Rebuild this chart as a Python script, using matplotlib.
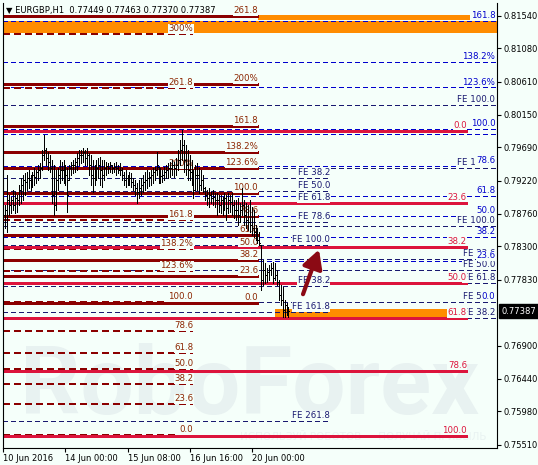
import matplotlib.pyplot as plt
import matplotlib.patches as mpatches

plt.switch_backend('agg')

# EURGBP H1 bars (high / low / close), first bar 10 Jun 2016 16:00
highs = [0.7891, 0.7888, 0.7930, 0.7902, 0.7899, 0.7909, 0.7906, 0.7902, 0.7916, 0.7926,
         0.7930, 0.7933, 0.7934, 0.7937, 0.7930, 0.7934, 0.7940, 0.7937, 0.7944, 0.7947,
         0.7965, 0.7986, 0.7968, 0.7962, 0.7958, 0.7951, 0.7944, 0.7937, 0.7940, 0.7951,
         0.7948, 0.7951, 0.7944, 0.7940, 0.7944, 0.7948, 0.7951, 0.7954, 0.7961, 0.7965,
         0.7965, 0.7968, 0.7965, 0.7968, 0.7961, 0.7958, 0.7951, 0.7944, 0.7951, 0.7954,
         0.7955, 0.7951, 0.7951, 0.7948, 0.7947, 0.7948, 0.7944, 0.7947, 0.7948, 0.7944,
         0.7947, 0.7940, 0.7934, 0.7937, 0.7930, 0.7934, 0.7933, 0.7926, 0.7923, 0.7919,
         0.7923, 0.7926, 0.7930, 0.7934, 0.7937, 0.7934, 0.7937, 0.7940, 0.7941, 0.7962,
         0.7941, 0.7940, 0.7937, 0.7941, 0.7944, 0.7947, 0.7948, 0.7951, 0.7948, 0.7954,
         0.7965, 0.7979, 0.7993, 0.7979, 0.7972, 0.7965, 0.7958, 0.7951, 0.7937, 0.7944,
         0.7947, 0.7940, 0.7937, 0.7930, 0.7913, 0.7909, 0.7912, 0.7906, 0.7909, 0.7905,
         0.7905, 0.7902, 0.7902, 0.7899, 0.7905, 0.7902, 0.7905, 0.7902, 0.7905, 0.7895,
         0.7895, 0.7898, 0.7891, 0.7912, 0.7895, 0.7891, 0.7888, 0.7895, 0.7885, 0.7881,
         0.7860, 0.7856, 0.7850, 0.7832, 0.7811, 0.7806, 0.7799, 0.7804, 0.7806, 0.7808,
         0.7806, 0.7797, 0.7783, 0.7776, 0.7773, 0.7754, 0.7750, 0.7745]
lows = [0.7853, 0.7856, 0.7850, 0.7874, 0.7877, 0.7881, 0.7877, 0.7878, 0.7888, 0.7891,
        0.7895, 0.7902, 0.7909, 0.7912, 0.7909, 0.7913, 0.7916, 0.7919, 0.7923, 0.7926,
        0.7937, 0.7951, 0.7944, 0.7937, 0.7934, 0.7891, 0.7874, 0.7881, 0.7909, 0.7919,
        0.7923, 0.7919, 0.7916, 0.7878, 0.7923, 0.7930, 0.7933, 0.7934, 0.7937, 0.7944,
        0.7947, 0.7948, 0.7944, 0.7944, 0.7930, 0.7916, 0.7906, 0.7916, 0.7923, 0.7926,
        0.7916, 0.7913, 0.7923, 0.7930, 0.7933, 0.7934, 0.7933, 0.7934, 0.7930, 0.7933,
        0.7930, 0.7923, 0.7916, 0.7913, 0.7916, 0.7916, 0.7913, 0.7909, 0.7902, 0.7891,
        0.7898, 0.7902, 0.7906, 0.7909, 0.7912, 0.7915, 0.7916, 0.7919, 0.7923, 0.7930,
        0.7919, 0.7919, 0.7920, 0.7923, 0.7926, 0.7926, 0.7927, 0.7930, 0.7927, 0.7930,
        0.7937, 0.7944, 0.7951, 0.7934, 0.7930, 0.7923, 0.7923, 0.7916, 0.7898, 0.7909,
        0.7909, 0.7905, 0.7909, 0.7906, 0.7895, 0.7888, 0.7885, 0.7891, 0.7888, 0.7885,
        0.7874, 0.7878, 0.7877, 0.7874, 0.7881, 0.7867, 0.7877, 0.7878, 0.7874, 0.7870,
        0.7867, 0.7860, 0.7864, 0.7874, 0.7860, 0.7856, 0.7853, 0.7850, 0.7846, 0.7843,
        0.7839, 0.7835, 0.7832, 0.7769, 0.7776, 0.7778, 0.7780, 0.7783, 0.7790, 0.7778,
        0.7783, 0.7776, 0.7754, 0.7747, 0.7731, 0.7731, 0.7733, 0.7731]
closes = [0.7874, 0.7881, 0.7895, 0.7888, 0.7895, 0.7888, 0.7898, 0.7895, 0.7909, 0.7916,
          0.7923, 0.7920, 0.7926, 0.7923, 0.7926, 0.7930, 0.7927, 0.7934, 0.7937, 0.7940,
          0.7958, 0.7965, 0.7954, 0.7948, 0.7940, 0.7902, 0.7888, 0.7923, 0.7930, 0.7937,
          0.7937, 0.7934, 0.7930, 0.7902, 0.7940, 0.7944, 0.7944, 0.7948, 0.7954, 0.7958,
          0.7958, 0.7962, 0.7954, 0.7958, 0.7944, 0.7930, 0.7926, 0.7937, 0.7940, 0.7944,
          0.7937, 0.7930, 0.7940, 0.7943, 0.7940, 0.7944, 0.7940, 0.7941, 0.7940, 0.7937,
          0.7937, 0.7930, 0.7923, 0.7926, 0.7923, 0.7926, 0.7920, 0.7916, 0.7912, 0.7906,
          0.7912, 0.7916, 0.7920, 0.7923, 0.7926, 0.7927, 0.7930, 0.7934, 0.7937, 0.7944,
          0.7930, 0.7929, 0.7930, 0.7934, 0.7937, 0.7940, 0.7940, 0.7944, 0.7940, 0.7944,
          0.7951, 0.7965, 0.7972, 0.7951, 0.7944, 0.7937, 0.7934, 0.7926, 0.7909, 0.7930,
          0.7930, 0.7916, 0.7923, 0.7912, 0.7902, 0.7898, 0.7902, 0.7898, 0.7899, 0.7895,
          0.7895, 0.7888, 0.7895, 0.7888, 0.7898, 0.7884, 0.7895, 0.7892, 0.7888, 0.7881,
          0.7881, 0.7874, 0.7881, 0.7888, 0.7874, 0.7867, 0.7864, 0.7860, 0.7856, 0.7850,
          0.7846, 0.7839, 0.7835, 0.7783, 0.7797, 0.7790, 0.7794, 0.7797, 0.7799, 0.7785,
          0.7790, 0.7780, 0.7761, 0.7754, 0.7740, 0.7747, 0.7743, 0.77387]

date_ticks = [0, 32, 64, 96, 128]
date_labels = ['10 Jun 2016', '14 Jun 00:00', '15 Jun 08:00', '16 Jun 16:00', '20 Jun 00:00']
price_ticks = [0.81540, 0.81080, 0.80610, 0.80150, 0.79690, 0.79220, 0.78760,
               0.78300, 0.77830, 0.76900, 0.76440, 0.75980, 0.75510]
last_price = 0.77387
title = '\u25bc EURGBP,H1  0.77449 0.77463 0.77370 0.77387'

# fibo grid 1 (dashed, ends 16 Jun)
fibo1_prices = [0.81282, 0.80524, 0.79386, 0.78669, 0.78262, 0.77952, 0.77517,
                0.77109, 0.76800, 0.76576, 0.76365, 0.76084, 0.75648]
fibo1_labels = ['300%', '261.8', '200%', '161.8', '138.2%', '123.6%', '100.0',
                '78.6', '61.8', '50.0', '38.2', '23.6', '0.0']
# fibo grid 2 (solid, ends 19 Jun)
fibo2_prices = [0.81535, 0.80580, 0.79990, 0.79624, 0.79400, 0.79048, 0.78725,
                0.78465, 0.78283, 0.78107, 0.77882, 0.77510]
fibo2_labels = ['261.8', '200%', '161.8', '138.2%', '123.6%', '100.0', '78.6',
                '61.8', '50.0', '38.2', '23.6', '0.0']
# main retracement (thick crimson)
main_prices = [0.79926, 0.78915, 0.78294, 0.77788, 0.77288, 0.76552, 0.75638]
main_labels = ['0.0', '23.6', '38.2', '50.0', '61.8', '78.6', '100.0']
# blue retracement (full width)
blue_prices = [0.81472, 0.80889, 0.80531, 0.79948, 0.79877, 0.79428, 0.79010,
               0.78725, 0.78430, 0.78093, 0.77517]
blue_labels = ['161.8', '138.2%', '123.6%', '100.0', '', '78.6', '61.8',
               '50.0', '38.2', '23.6', '0.0']
# fibo expansion, labels in the middle
fe_mid_prices = [0.79259, 0.79079, 0.78908, 0.78641, 0.78318, 0.77742, 0.77376, 0.75845]
fe_mid_labels = ['FE 38.2', 'FE 50.0', 'FE 61.8', 'FE 78.6', 'FE 100.0',
                 'FE 38.2', 'FE 161.8', 'FE 261.8']
# fibo expansion, labels at the right edge
fe_right_prices = [0.80285, 0.79400, 0.78585, 0.78121, 0.77967, 0.77784, 0.77517, 0.77292]
fe_right_labels = ['FE 100.0', 'FE 161.8', 'FE 100.0', 'FE 23.6', 'FE 50.0',
                   'FE 61.8', 'FE 50.0', 'FE 38.2']

# orange zones: (bar from, bar to, low, high)
zones = [(-1, 260, 0.81290, 0.81465),
         (131.3, 241.1, 0.81479, 0.81549),
         (140.1, 228.7, 0.77285, 0.77419)]

BG = '#f5fffa'
X0, X1 = -0.2, 254.5
END_F1, END_F2, END_FEM, END_MAIN, END_EDGE = 97.8, 131.3, 168.4, 239.0, 253.6
FS = 6.2

fig = plt.figure(figsize=(5.38, 4.65), dpi=100, facecolor=BG)
ax = fig.add_axes([3 / 538, 17 / 465, 494 / 538, 445 / 465], facecolor=BG)
ax.set_xlim(X0, X1)
ax.set_ylim(0.75466, 0.81718)

dash = (0, (4, 3))


def label(x, y, txt, color, z):
    if not txt:
        return
    ax.annotate(txt, xy=(x, y), xytext=(0, 0.6), textcoords='offset points',
                ha='right', va='bottom', fontsize=FS, color=color, zorder=z,
                bbox=dict(boxstyle='square,pad=0.05', fc=BG, ec='none'))


for x0, x1, lo, hi in zones:
    ax.add_patch(mpatches.Rectangle((x0, lo), x1 - x0, hi - lo, fc='#ff8c00',
                                    ec='none', zorder=1))

# watermark
ax.text(0.5, 0.135, 'RoboForex', transform=ax.transAxes, ha='center', va='center',
        fontsize=68, family='Roboto', fontweight='bold', color='#e8f2f1', zorder=0.5)
ax.text(0.73, 0.025, 'ИСПОЛЬЗУЙ РОБОТОВ — ПОЛУЧАЙ ПРИБЫЛЬ', transform=ax.transAxes,
        ha='center', va='center', fontsize=7.5, color='#e9f3f2', zorder=0.5)

ax.hlines(blue_prices, X0, X1, colors='#0000cd', lw=0.75, linestyles=dash, zorder=2,
          antialiased=False)
ax.hlines(fe_right_prices, X0, X1, colors='#191970', lw=0.75, linestyles=dash, zorder=2,
          antialiased=False)
ax.hlines(fe_mid_prices, X0, END_FEM, colors='#191970', lw=0.75, linestyles=dash,
          zorder=2, antialiased=False)
ax.hlines(fibo1_prices, X0, END_F1, colors='#8b0000', lw=1.1, linestyles=dash, zorder=2.2,
          antialiased=False)
ax.hlines(fibo2_prices, X0, END_F2, colors='#8b0000', lw=0.8, zorder=2.3,
          antialiased=False)
ax.hlines(main_prices, X0, END_MAIN, colors='#dc143c', lw=2, zorder=2.5,
          antialiased=False)

for p, t in zip(fe_right_prices, fe_right_labels):
    label(END_EDGE, p, t, '#191970', 3)
for p, t in zip(blue_prices, blue_labels):
    label(END_EDGE, p, t, '#0000cd', 3.5)
for p, t in zip(fe_mid_prices, fe_mid_labels):
    label(END_FEM, p, t, '#191970', 4)
for p, t in zip(main_prices, main_labels):
    label(END_MAIN, p, t, '#dc143c', 4.5)
for p, t in zip(fibo1_prices, fibo1_labels):
    label(END_F1, p, t, '#8b2500', 4.2)
for p, t in zip(fibo2_prices, fibo2_labels):
    label(END_F2, p, t, '#8b2500', 4.3)

# arrow
ax.annotate('', xy=(163.2, 0.7829), xytext=(154.0, 0.7759),
            arrowprops=dict(arrowstyle='-|>,head_length=1.1,head_width=0.6',
                            lw=3, color='#8b0a14'), zorder=5)

# bars: high-low line with open (left) and close (right) ticks
idx = list(range(len(closes)))
opens = [closes[0]] + closes[:-1]
opens = [min(max(o, lo), hi) for o, lo, hi in zip(opens, lows, highs)]
ax.vlines(idx, lows, highs, colors='black', lw=0.5, zorder=6, antialiased=False)
ax.hlines(opens, [i - 0.5 for i in idx], idx, colors='black', lw=0.5, zorder=6,
          antialiased=False)
ax.hlines(closes, idx, [i + 0.5 for i in idx], colors='black', lw=0.5, zorder=6,
          antialiased=False)

# axes styling
ax.spines['top'].set_visible(False)
for s in ['left', 'right', 'bottom']:
    ax.spines[s].set_linewidth(0.8)
ax.yaxis.tick_right()
ax.set_yticks(price_ticks)
ax.set_yticklabels(['%.5f' % p for p in price_ticks])
ax.set_xticks(date_ticks)
ax.set_xticklabels(date_labels)
ax.tick_params(axis='both', labelsize=6, length=3, width=0.8, pad=1.5, colors='black')
for lbl in ax.get_xticklabels():
    lbl.set_ha('left')

ax.annotate('%.5f' % last_price, xy=(1, last_price),
            xycoords=('axes fraction', 'data'), xytext=(3, 0),
            textcoords='offset points', ha='left', va='center', fontsize=6,
            color='white', zorder=10,
            bbox=dict(boxstyle='square,pad=0.3', fc='black', ec='black'))

fig.text(6 / 538, 1 - 11 / 465, title, fontsize=6, va='center', ha='left')

fig.savefig('out.png', dpi=100, facecolor=BG)
plt.close('all')
